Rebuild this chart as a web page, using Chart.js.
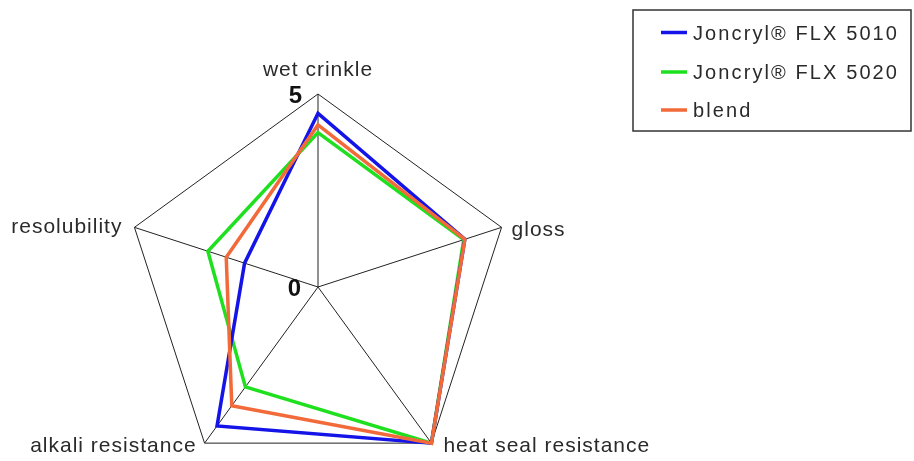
<!DOCTYPE html>
<html>
<head>
<meta charset="utf-8">
<script src="https://cdn.jsdelivr.net/npm/chart.js@4/dist/chart.umd.min.js"></script>
<style>
html,body{margin:0;padding:0;background:#fff;overflow:hidden;}
#wrap{position:absolute;left:0;top:0;width:914px;height:500px;}
</style>
</head>
<body>
<div id="wrap"><canvas id="c" width="914" height="500"></canvas></div>
<script>
const categories = ['wet crinkle', 'gloss', 'heat seal resistance', 'alkali resistance', 'resolubility'];
const seriesNames = ['Joncryl® FLX 5010', 'Joncryl® FLX 5020', 'blend'];
const flx5010 = [4.5, 4.0, 5.0, 4.45, 2.0];
const flx5020 = [4.0, 3.97, 5.0, 3.2, 3.0];
const blend = [4.2, 4.0, 5.0, 3.8, 2.5];
const tickLabels = ['0', '5'];
const colors = ['#1414e8', '#1fe01f', '#f26a3a'];

// offsets of the axis labels from their spoke end (style only)
const labelStyle = [
  {dx: 0, dy: -18, align: 'center'},
  {dx: 10, dy: 9, align: 'left'},
  {dx: 12, dy: 9, align: 'left'},
  {dx: -8, dy: 9, align: 'right'},
  {dx: -12, dy: 6, align: 'right'}
];

const textPlugin = {
  id: 'texts',
  afterDraw(chart) {
    const ctx = chart.ctx;
    const r = chart.scales.r;
    ctx.save();
    ctx.fillStyle = '#2a2a2a';
    ctx.textBaseline = 'alphabetic';
    try { ctx.letterSpacing = '1px'; } catch (e) {}
    ctx.font = '21px "Liberation Sans", Arial, sans-serif';
    categories.forEach((c, i) => {
      const p = r.getPointPosition(i, r.drawingArea);
      const s = labelStyle[i];
      ctx.textAlign = s.align;
      ctx.fillText(c, p.x + s.dx, p.y + s.dy);
    });
    // tick labels 0 and 5
    try { ctx.letterSpacing = '0px'; } catch (e) {}
    ctx.font = 'bold 24px "Liberation Sans", Arial, sans-serif';
    ctx.textAlign = 'right';
    ctx.textBaseline = 'middle';
    ctx.fillStyle = '#111';
    const v0 = r.getPointPositionForValue(0, 0);
    ctx.fillText(tickLabels[0], v0.x - 17, v0.y + 2);
    const v5 = r.getPointPositionForValue(0, 5);
    ctx.fillText(tickLabels[1], v5.x - 16, v5.y + 2);

    // legend box
    ctx.strokeStyle = '#333';
    ctx.lineWidth = 1.5;
    ctx.strokeRect(633, 10, 278, 121);
    const ys = [32.5, 72, 110];
    ctx.textAlign = 'left';
    ctx.textBaseline = 'alphabetic';
    ctx.font = '20px "Liberation Sans", Arial, sans-serif';
    try { ctx.letterSpacing = '2.1px'; } catch (e) {}
    seriesNames.forEach((n, i) => {
      ctx.strokeStyle = colors[i];
      ctx.lineWidth = 3.5;
      ctx.beginPath();
      ctx.moveTo(661, ys[i]);
      ctx.lineTo(687, ys[i]);
      ctx.stroke();
      ctx.fillStyle = '#2a2a2a';
      ctx.fillText(n, 693, ys[i] + 7);
    });
    ctx.restore();
  }
};

new Chart(document.getElementById('c'), {
  type: 'radar',
  data: {
    labels: categories,
    datasets: [
      {label: seriesNames[0], data: flx5010, borderColor: colors[0], order: 1},
      {label: seriesNames[1], data: flx5020, borderColor: colors[1], order: 2},
      {label: seriesNames[2], data: blend, borderColor: colors[2], order: 0}
    ]
  },
  options: {
    responsive: false,
    devicePixelRatio: 1,
    animation: false,
    layout: {padding: {left: 125, right: 403, top: 94, bottom: 20}},
    elements: {
      line: {borderWidth: 3.5, fill: false, tension: 0, borderJoinStyle: 'miter'},
      point: {radius: 0, hoverRadius: 0}
    },
    plugins: {legend: {display: false}, tooltip: {enabled: false}},
    scales: {
      r: {
        min: 0, max: 5,
        ticks: {display: false, stepSize: 5},
        pointLabels: {display: false},
        grid: {color: '#222', lineWidth: 1, circular: false},
        angleLines: {color: '#222', lineWidth: 1}
      }
    }
  },
  plugins: [textPlugin]
});
</script>
</body>
</html>
